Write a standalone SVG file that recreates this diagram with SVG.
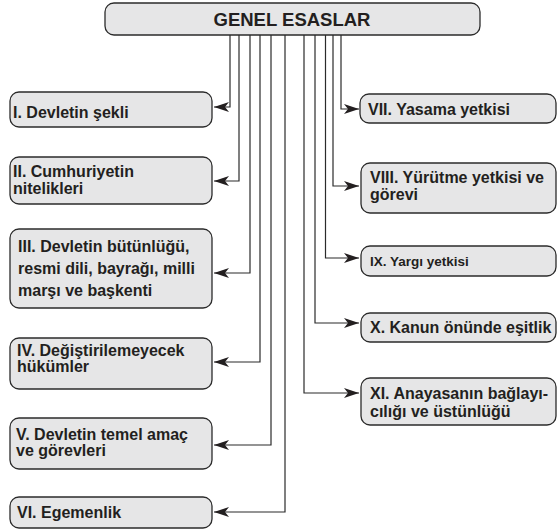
<svg xmlns="http://www.w3.org/2000/svg" width="557" height="529" viewBox="0 0 557 529">
<style>
.box{fill:#e6e6e7;stroke:#2b2b2b;stroke-width:1.3}
.t{font-family:"Liberation Sans",Arial,sans-serif;font-weight:bold;font-size:16px;fill:#231f20}
.c{fill:none;stroke:#2b2b2b;stroke-width:1.2}
</style>
<defs>
<marker id="ah" viewBox="0 0 15 10" markerWidth="15" markerHeight="10" refX="15" refY="5" orient="auto" markerUnits="userSpaceOnUse">
<path d="M0,0 L15,5 L0,10 L4,5 z" fill="#231f20"/>
</marker>
</defs>
<g id="connectors">
<path class="c" d="M230,35 V107 H214" marker-end="url(#ah)"/>
<path class="c" d="M239,35 V181 H214" marker-end="url(#ah)"/>
<path class="c" d="M250,35 V273 H214" marker-end="url(#ah)"/>
<path class="c" d="M260,35 V362 H214" marker-end="url(#ah)"/>
<path class="c" d="M271,35 V445 H214" marker-end="url(#ah)"/>
<path class="c" d="M285,35 V512 H214" marker-end="url(#ah)"/>
<path class="c" d="M341,35 V109 H359" marker-end="url(#ah)"/>
<path class="c" d="M333,35 V186 H359" marker-end="url(#ah)"/>
<path class="c" d="M325.5,35 V258 H359" marker-end="url(#ah)"/>
<path class="c" d="M315,35 V323 H359" marker-end="url(#ah)"/>
<path class="c" d="M304,35 V393 H359" marker-end="url(#ah)"/>
</g>
<g id="top">
<rect class="box" x="105" y="3" width="375" height="32" rx="9"/>
<text class="t" x="292" y="26" text-anchor="middle" style="font-size:18.5px">GENEL ESASLAR</text>
</g>
<g id="n1">
<rect class="box" x="10" y="92" width="202" height="35" rx="9"/>
<text class="t" x="13" y="118">I. Devletin şekli</text>
</g>
<g id="n2">
<rect class="box" x="10" y="157" width="202" height="47" rx="9"/>
<text class="t" x="13" y="177">II. Cumhuriyetin</text>
<text class="t" x="13" y="194">nitelikleri</text>
</g>
<g id="n3">
<rect class="box" x="10" y="229" width="202" height="79" rx="9"/>
<text class="t" x="18" y="252">III. Devletin bütünlüğü,</text>
<text class="t" x="18" y="274">resmi dili, bayrağı, milli</text>
<text class="t" x="18" y="296">marşı ve başkenti</text>
</g>
<g id="n4">
<rect class="box" x="10" y="338" width="202" height="51" rx="9"/>
<text class="t" x="17" y="356">IV. Değiştirilemeyecek</text>
<text class="t" x="17" y="372">hükümler</text>
</g>
<g id="n5">
<rect class="box" x="10" y="418" width="202" height="51" rx="9"/>
<text class="t" x="16" y="440">V. Devletin temel amaç</text>
<text class="t" x="16" y="456">ve görevleri</text>
</g>
<g id="n6">
<rect class="box" x="10" y="497" width="202" height="31" rx="9"/>
<text class="t" x="17" y="518">VI. Egemenlik</text>
</g>
<g id="n7">
<rect class="box" x="360" y="94" width="196" height="29" rx="9"/>
<text class="t" x="368" y="115">VII. Yasama yetkisi</text>
</g>
<g id="n8">
<rect class="box" x="361" y="163" width="195" height="50" rx="9"/>
<text class="t" x="370" y="183">VIII. Yürütme yetkisi ve</text>
<text class="t" x="370" y="200">görevi</text>
</g>
<g id="n9">
<rect class="box" x="361" y="246" width="195" height="30" rx="9"/>
<text class="t" x="370" y="266" style="font-size:13.5px">IX. Yargı yetkisi</text>
</g>
<g id="n10">
<rect class="box" x="361" y="313" width="195" height="29" rx="9"/>
<text class="t" x="370" y="333">X. Kanun önünde eşitlik</text>
</g>
<g id="n11">
<rect class="box" x="361" y="378" width="195" height="47" rx="9"/>
<text class="t" x="370" y="399">XI. Anayasanın bağlayı-</text>
<text class="t" x="370" y="417">cılığı ve üstünlüğü</text>
</g>
</svg>
